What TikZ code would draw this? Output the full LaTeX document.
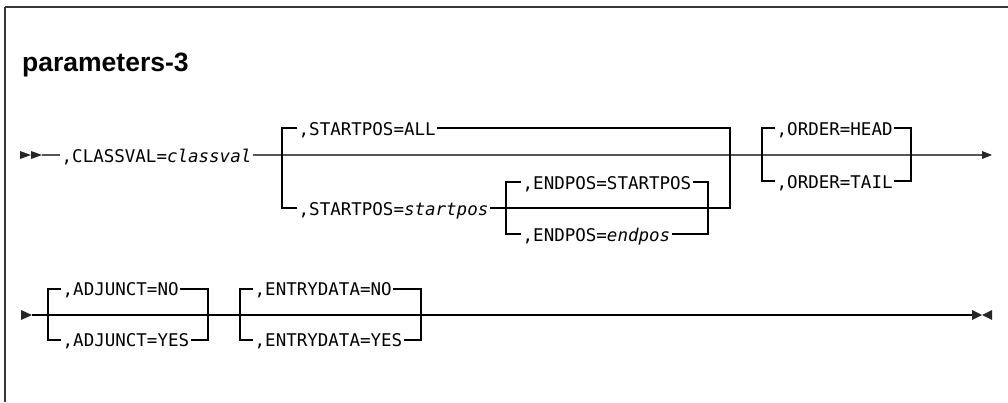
\documentclass[tikz,border=0pt]{standalone}
\usepackage{fontspec}
\newfontfamily\railfont{DejaVu Sans Mono}
\newfontfamily\headfont{Liberation Sans}
\usepackage{tikz}
\usetikzlibrary{calc}
\usepackage{xcolor}
\definecolor{railgrey}{RGB}{85,85,85}
\definecolor{framegrey}{RGB}{55,55,55}

\begin{document}
\begin{tikzpicture}[x=1pt, y=-1pt,
    lbl/.style={font=\railfont\fontsize{17.5}{20}\selectfont,
      inner xsep=1.5pt, inner ysep=0pt, anchor=base west},
    mainline/.style={line width=1.7pt, railgrey},
    branch/.style={line width=1.2pt, black},
    tip/.style={fill=black!85}]
    \useasboundingbox (0,0) rectangle (1008,402);
    % ── Frame and heading ─────────────────────────────────────────────
    \draw[framegrey, line width=2pt] (1008,7) -- (5,7);
    \draw[framegrey, line width=1.5pt] (5,7) -- (5,402);
    \node[font=\headfont\bfseries\fontsize{26.5}{30}\selectfont,
      anchor=base west, inner sep=0pt] (title) at (22,71) {parameters-3};

    % ── Row 1 ─────────────────────────────────────────────────────────
    \coordinate (r1s) at (42,155);
    \coordinate (r1e) at (982,155);
    \foreach \xx in {20, 31}{
      \fill[tip] (\xx,151) -- (\xx+11,155) -- (\xx,159) -- cycle;
    }
    \node[lbl] (classval) at (60,162) {,CLASSVAL=\textit{classval}};
    \draw[mainline] (r1s) -- (r1s -| classval.west);
    \draw[mainline] (classval.east |- r1s) -- (r1e);
    \fill[tip] (982,151) -- (992,155) -- (982,159) -- cycle;

    % STARTPOS choice
    \coordinate (spTL) at (282,128);
    \coordinate (spBL) at (282,208);
    \coordinate (spTR) at (730,128);
    \coordinate (spBR) at (730,208);
    \node[lbl] (startall) at (297,135) {,STARTPOS=ALL};
    \node[lbl] (startpos) at (297,215) {,STARTPOS=\textit{startpos}};
    \draw[branch] (startall.west |- spTL) -- (spTL) -- (spBL) -- (spBL -| startpos.west);
    \draw[branch] (startall.east |- spTL) -- (spTR) -- (spBR) -- (startpos.east |- spBR);

    % ENDPOS choice, hung on the startpos line
    \coordinate (epTL) at (506,182);
    \coordinate (epBL) at (506,234);
    \coordinate (epTR) at (708,182);
    \coordinate (epBR) at (708,234);
    \node[lbl] (endstart) at (521,189) {,ENDPOS=STARTPOS};
    \node[lbl] (endpos) at (521,241) {,ENDPOS=\textit{endpos}};
    \draw[branch] (endstart.west |- epTL) -- (epTL) -- (epBL) -- (epBL -| endpos.west);
    \draw[branch] (endstart.east |- epTL) -- (epTR) -- (epBR) -- (endpos.east |- epBR);

    % ORDER choice
    \coordinate (odTL) at (762,128);
    \coordinate (odBL) at (762,181);
    \coordinate (odTR) at (911,128);
    \coordinate (odBR) at (911,181);
    \node[lbl] (orderhead) at (775,135) {,ORDER=HEAD};
    \node[lbl] (ordertail) at (775,188) {,ORDER=TAIL};
    \draw[branch] (orderhead.west |- odTL) -- (odTL) -- (odBL) -- (odBL -| ordertail.west);
    \draw[branch] (orderhead.east |- odTL) -- (odTR) -- (odBR) -- (ordertail.east |- odBR);

    % ── Row 2 ─────────────────────────────────────────────────────────
    \coordinate (r2s) at (32,315);
    \coordinate (r2e) at (972,315);
    \fill[tip] (21,310) -- (32,315) -- (21,320) -- cycle;
    \draw[branch] (r2s) -- (r2e);
    \fill[tip] (972,310) -- (982,315) -- (972,320) -- cycle;
    \fill[tip] (992,310) -- (982,315) -- (992,320) -- cycle;

    % ADJUNCT choice
    \coordinate (ajTL) at (48,289);
    \coordinate (ajBL) at (48,340);
    \coordinate (ajTR) at (208,289);
    \coordinate (ajBR) at (208,340);
    \node[lbl] (adjno) at (61,295) {,ADJUNCT=NO};
    \node[lbl] (adjyes) at (61,346) {,ADJUNCT=YES};
    \draw[branch] (adjno.west |- ajTL) -- (ajTL) -- (ajBL) -- (ajBL -| adjyes.west);
    \draw[branch] (adjno.east |- ajTL) -- (ajTR) -- (ajBR) -- (adjyes.east |- ajBR);

    % ENTRYDATA choice
    \coordinate (edTL) at (240,289);
    \coordinate (edBL) at (240,340);
    \coordinate (edTR) at (421,289);
    \coordinate (edBR) at (421,340);
    \node[lbl] (entryno) at (253,295) {,ENTRYDATA=NO};
    \node[lbl] (entryyes) at (253,346) {,ENTRYDATA=YES};
    \draw[branch] (entryno.west |- edTL) -- (edTL) -- (edBL) -- (edBL -| entryyes.west);
    \draw[branch] (entryno.east |- edTL) -- (edTR) -- (edBR) -- (entryyes.east |- edBR);
  \end{tikzpicture}
\end{document}
